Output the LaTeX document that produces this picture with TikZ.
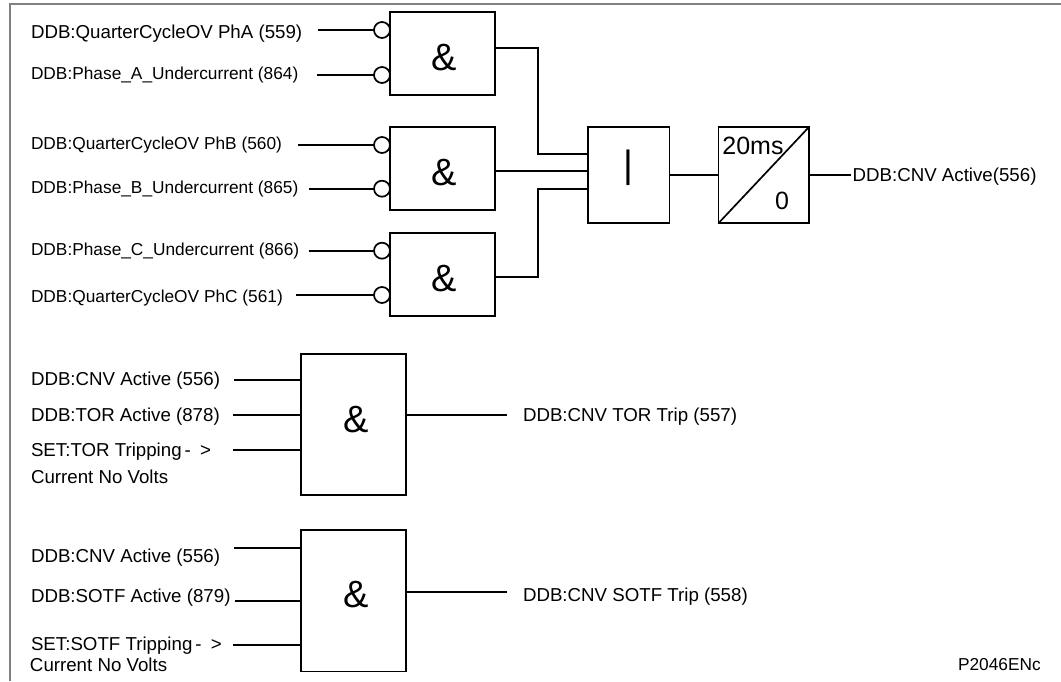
\documentclass[tikz,border=0pt]{standalone}
\usepackage{fontspec}
\setmainfont{Liberation Sans}
\usetikzlibrary{positioning, calc}
\definecolor{framegray}{RGB}{128,128,128}
\tikzset{
  gate/.style={
    rectangle, draw=black, line width=1.7pt, fill=white, inner sep=0pt, outer sep=0pt,
    minimum width=105pt, minimum height=83.3pt
  },
  biggate/.style={gate, minimum height=141.3pt},
  bubble/.style={
    circle, draw=black, line width=1.7pt, fill=white, inner sep=0pt, outer sep=0pt, minimum size=16pt
  },
  signal/.style={anchor=west, inner sep=0pt, outer sep=0pt, font=\fontsize{18.7}{22}\selectfont},
  smallsignal/.style={signal, font=\fontsize{17.3}{20}\selectfont},
  gatesym/.style={inner sep=0pt, font=\fontsize{38}{42}\selectfont},
  timetext/.style={inner sep=0pt, font=\fontsize{25}{28}\selectfont},
  wire/.style={line width=1.7pt, draw=black}
}
\begin{document}
\begin{tikzpicture}[x=1pt, y=1pt]
\useasboundingbox (0,0) rectangle (1061,681);
\node[gate, anchor=north west] (a1) at (390,669) {};
\node[gate, below=31.7pt of a1] (a2) {};
\node[gate, below=22.7pt of a2] (a3) {};
\node[gate, minimum width=81.4pt, minimum height=96.3pt, anchor=north west] (orgate) at (588,554) {};
\node[gate, minimum width=90.6pt, minimum height=96.3pt, right=49pt of orgate] (timer) {};
\node[gatesym] (s1) at ($(a1)+(1.5,-3.8)$) {\&};
\node[gatesym] (s2) at ($(a2)+(1.5,-3.8)$) {\&};
\node[gatesym] (s3) at ($(a3)+(1.5,-3.8)$) {\&};
\node[gatesym] (orbar) at ($(orgate)+(0,7.3)$) {|};
\node[timetext] (t20) at (753,535.3) {20ms};
\node[timetext] (t0) at (782,480.3) {0};

% -------- INPUTS OF THE THREE UPPER GATES --------
\node[signal] (la1) at (31,647.5) {DDB:QuarterCycleOV PhA (559)};
\node[smallsignal] (la2) at (31,605.5) {DDB:Phase\_A\_Undercurrent (864)};
\node[smallsignal] (lb1) at (31,535.8) {DDB:QuarterCycleOV PhB (560)};
\node[smallsignal] (lb2) at (31,492.2) {DDB:Phase\_B\_Undercurrent (865)};
\node[smallsignal] (lc1) at (31,430.2) {DDB:Phase\_C\_Undercurrent (866)};
\node[smallsignal] (lc2) at (31,383.2) {DDB:QuarterCycleOV PhC (561)};
\node[bubble, anchor=east] (b1) at (a1.west |- 0,651) {};
\node[bubble, anchor=east] (b2) at (a1.west |- 0,606) {};
\node[bubble, anchor=east] (b3) at (a2.west |- 0,536) {};
\node[bubble, anchor=east] (b4) at (a2.west |- 0,492.3) {};
\node[bubble, anchor=east] (b5) at (a3.west |- 0,430.3) {};
\node[bubble, anchor=east] (b6) at (a3.west |- 0,386) {};

\foreach \a/\b/\g in {la1/b1/15.5,la2/b2/18.8,lb1/b3/16,lb2/b4/10.8,lc1/b5/9.4,lc2/b6/13}
  \draw[wire, shorten <=\g pt] (\a.east |- \b) -- (\b);

% -------- UPPER GATES TO OR GATE AND TIMER --------
\coordinate (rise) at (538,0);
\coordinate (in1) at (orgate.west |- 0,527.3);
\coordinate (in2) at (orgate.west |- 0,510.3);
\coordinate (in3) at (orgate.west |- 0,492.3);
\coordinate (aout1) at (a1.east |- 0,633.3);
\coordinate (aout3) at (a3.east |- 0,404.3);
\draw[wire] (aout1) -- (aout1 -| rise) -- (rise |- in1) -- (in1);
\draw[wire] (a2.east |- in2) -- (in2);
\draw[wire] (aout3) -- (aout3 -| rise) -- (rise |- in3) -- (in3);
\draw[wire] (orgate) -- (timer);
\draw[wire] (timer.south west) -- (timer.north east);
\node[signal] (lact) at (852.6,504) {DDB:CNV Active(556)};
\draw[wire, shorten >=2pt] (timer.east) -- (lact.west |- timer);

% -------- LOWER GATES --------
\node[biggate, anchor=north west] (g1) at (301.3,327) {};
\node[biggate, below=35pt of g1] (g2) {};
\node[gatesym] (s4) at ($(g1)+(2,5.3)$) {\&};
\node[gatesym] (s5) at ($(g2)+(2,6.8)$) {\&};

\node[signal] (lg1) at (31,300.5) {DDB:CNV Active (556)};
\node[signal] (lg2) at (31,264.8) {DDB:TOR Active (878)};
\node[signal] (lg3) at (31,229.5) {SET:TOR Tripping\kern3pt-\kern4pt\ >};
\node[signal] (lg4) at (31,204.3) {Current No Volts};
\node[signal] (lh1) at (31,123.5) {DDB:CNV Active (556)};
\node[signal] (lh2) at (31,83.8) {DDB:SOTF Active (879)};
\node[signal] (lh3) at (31,35.5) {SET:SOTF Tripping\kern3pt-\kern4pt\ >};
\node[signal] (lh4) at (30,16.3) {Current No Volts};

\coordinate (ig1) at (g1.west |- 0,301);
\coordinate (ig2) at (g1.west |- 0,265.7);
\coordinate (ig3) at (g1.west |- 0,230.7);
\coordinate (ih1) at (g2.west |- 0,133.3);
\coordinate (ih2) at (g2.west |- 0,80.3);
\coordinate (ih3) at (g2.west |- 0,36.3);
\foreach \a/\b/\g in {lg1/ig1/13.6,lg2/ig2/13.6,lg3/ig3/22,lh1/ih1/13.6,lh2/ih2/4,lh3/ih3/11.2}
  \draw[wire, shorten <=\g pt] (\a.east |- \b) -- (\b);

\node[signal] (lo1) at (523,264) {DDB:CNV TOR Trip (557)};
\node[signal] (lo2) at (523,84.5) {DDB:CNV SOTF Trip (558)};
\coordinate (og1) at (g1.east |- 0,265.7);
\coordinate (og2) at (g2.east |- 0,88.7);
\draw[wire, shorten >=16pt] (og1) -- (lo1.west |- og1);
\draw[wire, shorten >=16pt] (og2) -- (lo2.west |- og2);

\node[signal, font=\fontsize{17.3}{20}\selectfont] (ref) at (958,16) {P2046ENc};

% frame
\coordinate (fa) at (10,0);
\coordinate (fb) at (10,677);
\coordinate (fc) at (1061,677);
\draw[framegray, line width=2pt] (fa) -- (fb) -- (fc);
\end{tikzpicture}
\end{document}
